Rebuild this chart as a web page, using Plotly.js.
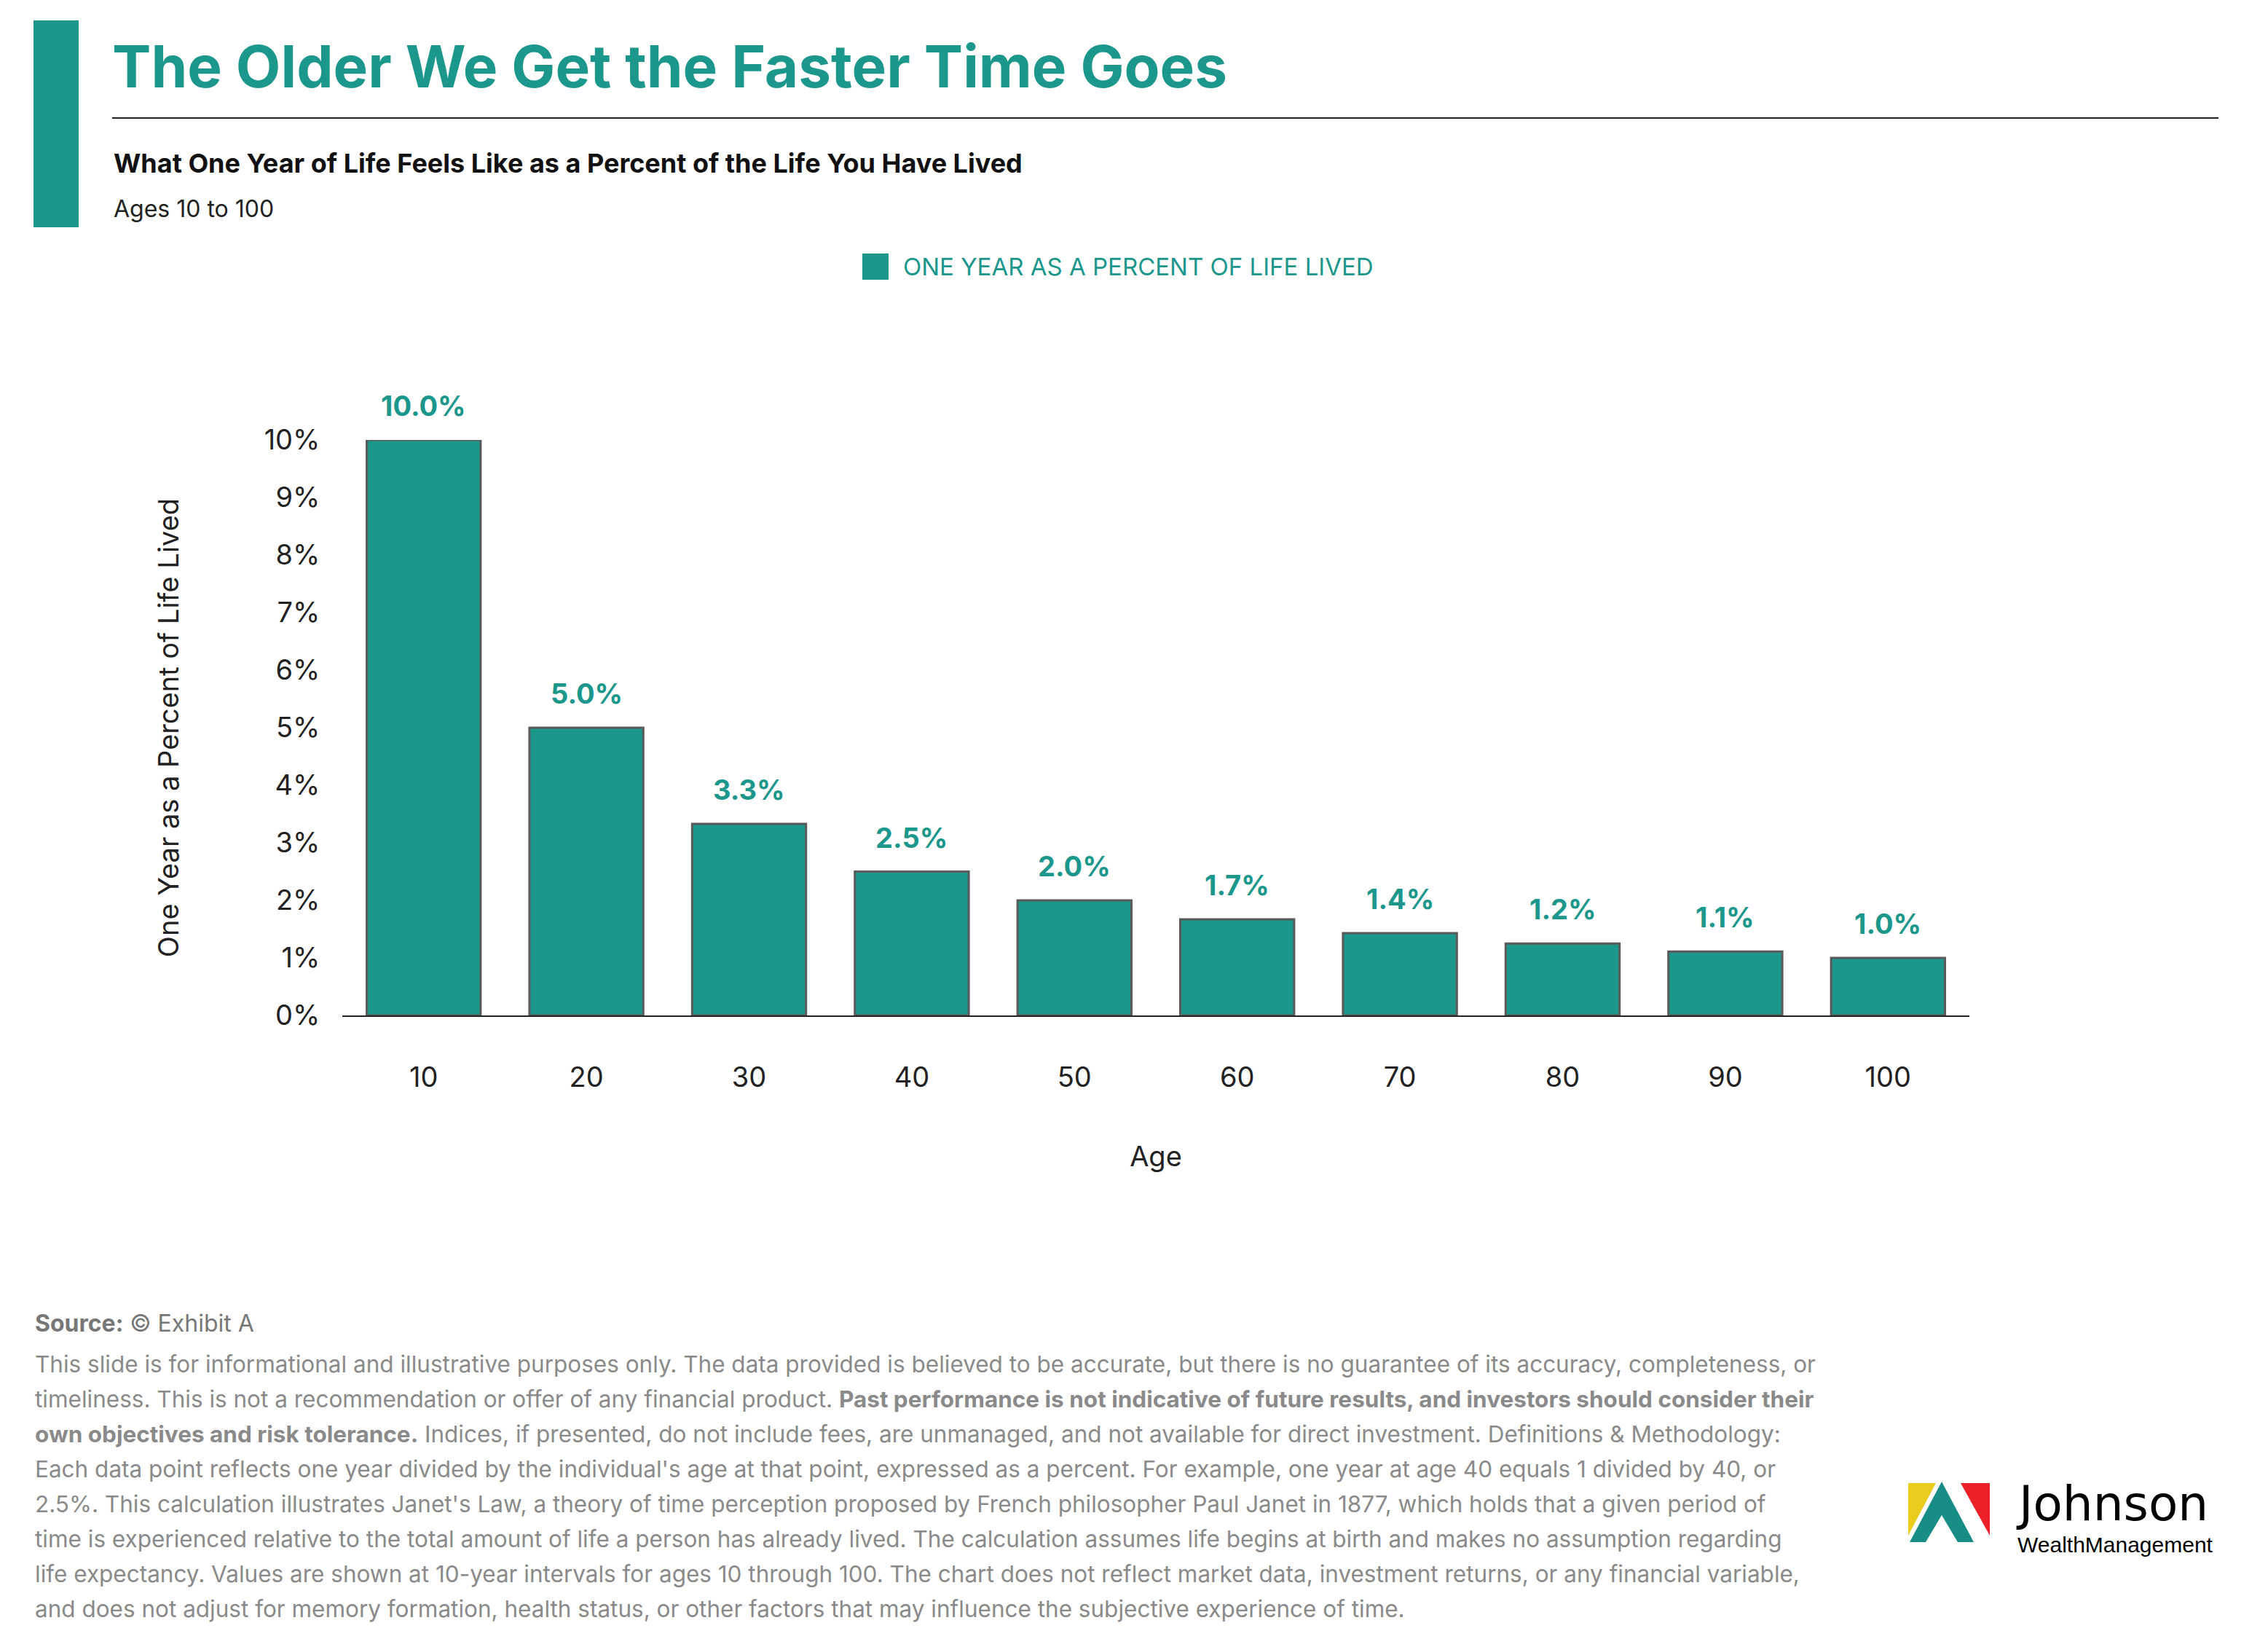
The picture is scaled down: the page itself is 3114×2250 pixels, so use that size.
<!DOCTYPE html>
<html><head><meta charset="utf-8">
<script src="https://cdn.plot.ly/plotly-3.0.1.min.js"></script>
<style>body{margin:0;background:#fff}#chart{width:3114px;height:2250px}</style>
</head><body><div id="chart"></div>
<script>
const ages = ["10", "20", "30", "40", "50", "60", "70", "80", "90", "100"]
const pctLived = [10.0, 5.0, 3.33, 2.5, 2.0, 1.67, 1.43, 1.25, 1.11, 1.0]
const barLabels = ["10.0%", "5.0%", "3.3%", "2.5%", "2.0%", "1.7%", "1.4%", "1.2%", "1.1%", "1.0%"]
const yTicks = [0, 1, 2, 3, 4, 5, 6, 7, 8, 9, 10]
const footerLines = [
  "This slide is for informational and illustrative purposes only. The data provided is believed to be accurate, but there is no guarantee of its accuracy, completeness, or",
  "timeliness. This is not a recommendation or offer of any financial product. <b>Past performance is not indicative of future results, and investors should consider their</b>",
  "<b>own objectives and risk tolerance.</b> Indices, if presented, do not include fees, are unmanaged, and not available for direct investment. Definitions &amp; Methodology:",
  "Each data point reflects one year divided by the individual's age at that point, expressed as a percent. For example, one year at age 40 equals 1 divided by 40, or",
  "2.5%. This calculation illustrates Janet's Law, a theory of time perception proposed by French philosopher Paul Janet in 1877, which holds that a given period of",
  "time is experienced relative to the total amount of life a person has already lived. The calculation assumes life begins at birth and makes no assumption regarding",
  "life expectancy. Values are shown at 10-year intervals for ages 10 through 100. The chart does not reflect market data, investment returns, or any financial variable,",
  "and does not adjust for memory formation, health status, or other factors that may influence the subjective experience of time.",
]

const teal = "#1c978c"
const W = 3114, H = 2250
const px = (x) => x / W
const py = (y) => 1 - y / H

const data = [{
  type: 'bar',
  x: ages,
  y: pctLived,
  marker: { color: teal, line: { color: '#5a5a5a', width: 3 } },
  hoverinfo: 'skip',
}]

const annotations = [
  { xref: 'paper', yref: 'paper', x: px(152), y: py(90), xanchor: 'left', yanchor: 'middle', showarrow: false,
    text: '<b>The Older We Get the Faster Time Goes</b>', font: { size: 80, color: teal, family: 'Inter', weight: 900 } },
  { xref: 'paper', yref: 'paper', x: px(154), y: py(224), xanchor: 'left', yanchor: 'middle', showarrow: false,
    text: '<b>What One Year of Life Feels Like as a Percent of the Life You Have Lived</b>', font: { size: 36, color: '#111' } },
  { xref: 'paper', yref: 'paper', x: px(154), y: py(286), xanchor: 'left', yanchor: 'middle', showarrow: false,
    text: 'Ages 10 to 100', font: { size: 32, color: '#222' } },
  { xref: 'paper', yref: 'paper', x: px(1238), y: py(366), xanchor: 'left', yanchor: 'middle', showarrow: false,
    text: 'ONE YEAR AS A PERCENT OF LIFE LIVED', font: { size: 33, color: teal } },
  { xref: 'paper', yref: 'paper', x: px(46), y: py(1816), xanchor: 'left', yanchor: 'middle', showarrow: false,
    text: '<b>Source:</b> © Exhibit A', font: { size: 32, color: '#777' } },
  { xref: 'paper', yref: 'paper', x: px(2766), y: py(2064), xanchor: 'left', yanchor: 'middle', showarrow: false,
    text: 'Johnson', font: { size: 66, color: '#000', family: 'DejaVu Sans' } },
  { xref: 'paper', yref: 'paper', x: px(2768), y: py(2120), xanchor: 'left', yanchor: 'middle', showarrow: false,
    text: 'WealthManagement', font: { size: 30, color: '#000', family: 'Liberation Sans' } },
]
footerLines.forEach((line, i) => {
  annotations.push({ xref: 'paper', yref: 'paper', x: px(46), y: py(1872 + i * 48), xanchor: 'left', yanchor: 'middle',
    showarrow: false, text: line, font: { size: 31.5, color: '#8a8a8a' } })
})
ages.forEach((a, i) => {
  annotations.push({ x: i, y: pctLived[i], xref: 'x', yref: 'y', yanchor: 'bottom', yshift: 22, showarrow: false,
    text: '<b>' + barLabels[i] + '</b>', font: { size: 38, color: teal } })
})

const layout = {
  width: W, height: H,
  margin: { l: 0, r: 0, t: 0, b: 0 },
  paper_bgcolor: '#fff', plot_bgcolor: '#fff',
  font: { family: 'Inter', color: '#222' },
  bargap: 0.3,
  showlegend: false,
  xaxis: {
    type: 'category',
    domain: [px(470), px(2704)],
    showline: true, linecolor: '#222', linewidth: 2,
    tickfont: { size: 38 }, ticks: '', ticklabelstandoff: 50,
    title: { text: 'Age', font: { size: 38 }, standoff: 75 },
  },
  yaxis: {
    domain: [py(1394), py(604)],
    range: [0, 10],
    tickvals: yTicks, ticktext: yTicks.map(v => v + '%'),
    tickfont: { size: 38 }, showgrid: false, zeroline: false,
    ticks: 'outside', ticklen: 22, tickcolor: '#fff',
    title: { text: 'One Year as a Percent of Life Lived', font: { size: 38 }, standoff: 105 },
  },
  shapes: [
    { type: 'rect', xref: 'paper', yref: 'paper', x0: px(46), x1: px(108), y0: py(312), y1: py(28), fillcolor: teal, line: { width: 0 } },
    { type: 'line', xref: 'paper', yref: 'paper', x0: px(154), x1: px(3046), y0: py(162), y1: py(162), line: { color: '#222', width: 2 } },
    { type: 'rect', xref: 'paper', yref: 'paper', x0: px(1186), x1: px(1218), y0: py(382), y1: py(350), fillcolor: teal, line: { color: teal, width: 4 } },
    // logo marks
    { type: 'path', xref: 'paper', yref: 'paper', path: `M ${px(2620)} ${py(2036)} L ${px(2658)} ${py(2036)} L ${px(2620)} ${py(2108)} Z`, fillcolor: '#e8cc1e', line: { width: 0 } },
    { type: 'path', xref: 'paper', yref: 'paper', path: `M ${px(2622)} ${py(2117)} L ${px(2666)} ${py(2034)} L ${px(2710)} ${py(2117)} L ${px(2688)} ${py(2117)} L ${px(2666)} ${py(2080)} L ${px(2644)} ${py(2117)} Z`, fillcolor: '#178d85', line: { width: 0 } },
    { type: 'path', xref: 'paper', yref: 'paper', path: `M ${px(2692)} ${py(2036)} L ${px(2732)} ${py(2036)} L ${px(2732)} ${py(2108)} Z`, fillcolor: '#ec2027', line: { width: 0 } },
  ],
  annotations: annotations,
}

Plotly.newPlot('chart', data, layout, { displayModeBar: false, staticPlot: true })
</script></body></html>
